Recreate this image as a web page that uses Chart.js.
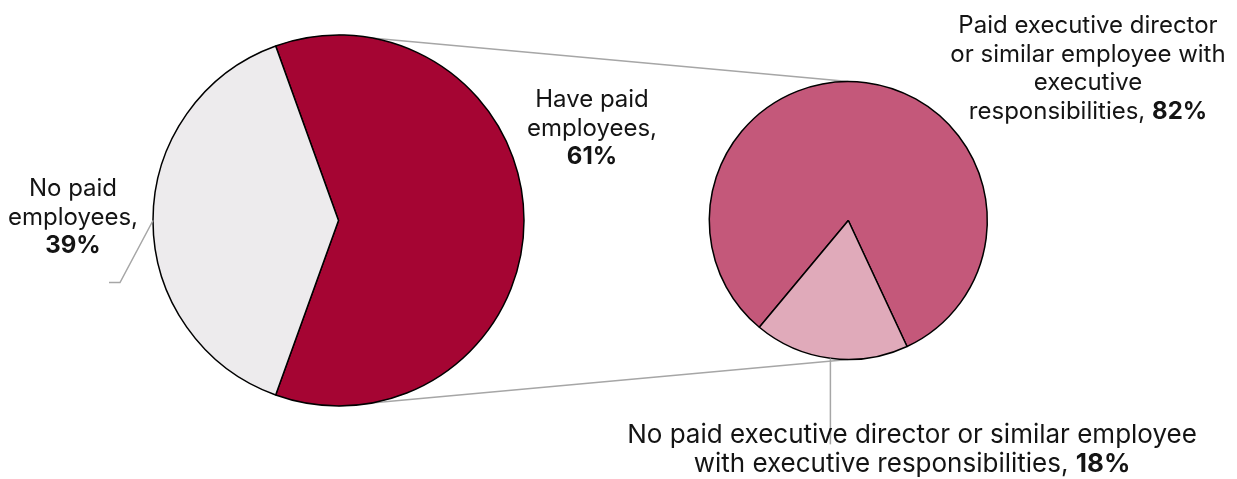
<!DOCTYPE html>
<html>
<head>
<meta charset="utf-8">
<script src="https://cdn.jsdelivr.net/npm/chart.js@4/dist/chart.umd.min.js"></script>
<style>
  html, body { margin: 0; padding: 0; background: #ffffff; }
  #wrap { position: relative; width: 1237px; height: 479px; overflow: hidden; background: #ffffff; }
  #wrap canvas { position: absolute; left: 0; top: 0; }
</style>
</head>
<body>
<div id="wrap">
  <canvas id="leftPie" width="1237" height="479"></canvas>
  <canvas id="rightPie" width="1237" height="479"></canvas>
</div>
<script>
// ---------- data ----------
const mainCategories = ["Have paid employees", "No paid employees"];
const mainValues = [61, 39];
const mainLabelLines = [["Have paid", "employees,", ""], ["No paid", "employees,", ""]];

const subCategories = [
  "Paid executive director or similar employee with executive responsibilities",
  "No paid executive director or similar employee with executive responsibilities"
];
const subValues = [82, 18];
const subLabelLines = [
  ["Paid executive director", "or similar employee with", "executive", "responsibilities, "],
  ["No paid executive director or similar employee", "with executive responsibilities, "]
];

// ---------- style ----------
const W = 1237, H = 479;
const FONT = 'Inter, "Open Sans", sans-serif';
const LINE_H = 28.7;
const GREY = '#a6a6a6';
const MAIN_COLORS = ['#a50533', '#edebed'];
const SUB_COLORS = ['#c4587a', '#e0aaba'];
const LEFT = { cx: 338.5, cy: 220.5, r: 185.5, midDeg: 270 };
const RIGHT = { cx: 848.3, cy: 220.5, r: 139, midDeg: 187.4 };

function paddingFor(g) {
  const h = g.r + 4.5;
  return { left: g.cx - h, right: W - (g.cx + h), top: g.cy - h, bottom: H - (g.cy + h) };
}
// rotate so the second slice is centred on the given clock angle
function rotationFor(values, midDeg) {
  const total = values.reduce((a, b) => a + b, 0);
  return midDeg - 360 * (values[0] + values[1] / 2) / total;
}
function pieConfig(labels, values, colors, g, plugins) {
  return {
    type: 'pie',
    data: { labels, datasets: [{
      data: values, backgroundColor: colors, borderColor: '#000000',
      borderWidth: 1.5, borderAlign: 'center'
    }]},
    options: {
      responsive: false, animation: false, events: [],
      radius: g.r, rotation: rotationFor(values, g.midDeg),
      layout: { padding: paddingFor(g) },
      plugins: { legend: { display: false }, tooltip: { enabled: false }, title: { display: false } }
    },
    plugins
  };
}
function arcGeom(chart, i) {
  const a = chart.getDatasetMeta(0).data[i];
  const mid = (a.startAngle + a.endAngle) / 2;
  return { x: a.x, y: a.y, r: a.outerRadius,
           midX: a.x + a.outerRadius * Math.cos(mid), midY: a.y + a.outerRadius * Math.sin(mid) };
}
function drawLabel(ctx, lines, valueText, cx, baseline0, fs) {
  ctx.save();
  ctx.fillStyle = '#141414';
  ctx.textBaseline = 'alphabetic';
  ctx.textAlign = 'left';
  lines.forEach((line, i) => {
    const y = baseline0 + i * LINE_H;
    const isLast = i === lines.length - 1;
    ctx.font = `${fs}px ${FONT}`;
    const w1 = ctx.measureText(line).width;
    let w2 = 0;
    if (isLast) { ctx.font = `bold ${fs}px ${FONT}`; w2 = ctx.measureText(valueText).width; }
    const x0 = cx - (w1 + w2) / 2;
    ctx.font = `${fs}px ${FONT}`;
    ctx.fillText(line, x0, y);
    if (isLast) { ctx.font = `bold ${fs}px ${FONT}`; ctx.fillText(valueText, x0 + w1, y); }
  });
  ctx.restore();
}
function line(ctx, pts) {
  ctx.beginPath();
  ctx.moveTo(pts[0][0], pts[0][1]);
  for (let k = 1; k < pts.length; k++) ctx.lineTo(pts[k][0], pts[k][1]);
  ctx.stroke();
}

let leftChart = null;

// right pie (top canvas): labels and leader lines
const labelPlugin = {
  id: 'labels',
  afterDraw(chart) {
    if (!leftChart) return;
    const ctx = chart.ctx;
    const L1 = arcGeom(leftChart, 1);
    const R1 = arcGeom(chart, 1);
    ctx.save();
    ctx.strokeStyle = GREY; ctx.lineWidth = 1.5;
    line(ctx, [[L1.midX, L1.midY], [L1.midX - 33, L1.midY + 62], [L1.midX - 44, L1.midY + 62]]);
    line(ctx, [[R1.midX, R1.midY], [R1.midX, R1.midY + 86]]);
    ctx.restore();
    const fmt = v => v + '%';
    drawLabel(ctx, mainLabelLines[0], fmt(mainValues[0]), 592, 107, 24);
    drawLabel(ctx, mainLabelLines[1], fmt(mainValues[1]), 73, 196, 24);
    drawLabel(ctx, subLabelLines[0], fmt(subValues[0]), 1088, 33, 24);
    drawLabel(ctx, subLabelLines[1], fmt(subValues[1]), 912, 443, 26);
  }
};

// left pie (bottom canvas): connector lines under the pies
const connectorPlugin = {
  id: 'connectors',
  beforeDatasetsDraw(chart) {
    const L = arcGeom(chart, 0);
    const R = arcGeom(rightChart, 0);
    const ctx = chart.ctx;
    ctx.save();
    ctx.strokeStyle = GREY; ctx.lineWidth = 1.5;
    line(ctx, [[L.x, L.y - L.r], [R.x, R.y - R.r]]);
    line(ctx, [[L.x, L.y + L.r], [R.x, R.y + R.r]]);
    ctx.restore();
  }
};

const rightChart = new Chart(document.getElementById('rightPie'),
  pieConfig(subCategories, subValues, SUB_COLORS, RIGHT, [labelPlugin]));
leftChart = new Chart(document.getElementById('leftPie'),
  pieConfig(mainCategories, mainValues, MAIN_COLORS, LEFT, [connectorPlugin]));
rightChart.draw();
</script>
</body>
</html>
